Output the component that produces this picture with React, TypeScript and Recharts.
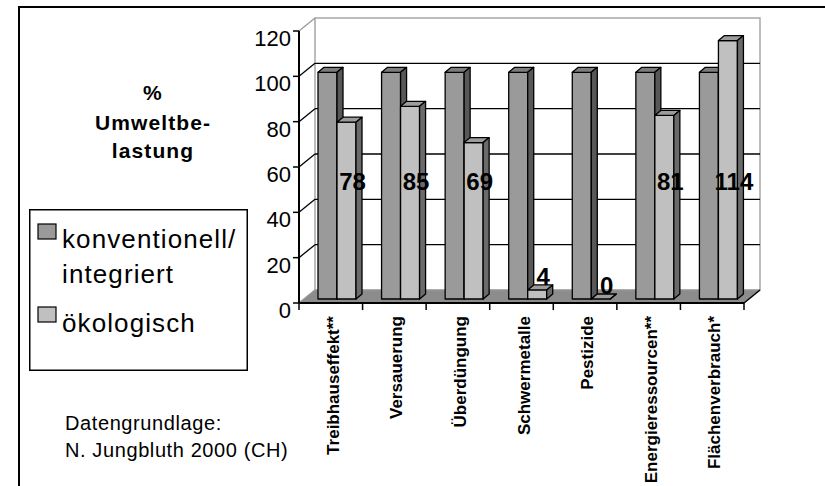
import React from 'react';
import { BarChart, Bar, XAxis, YAxis, ReferenceArea, Legend, LabelList } from 'recharts';

// Umweltbelastung konventionell vs. ökologisch (konventionell = 100 %)
const categories = [
  'Treibhauseffekt**',
  'Versauerung',
  'Überdüngung',
  'Schwermetalle',
  'Pestizide',
  'Energieressourcen**',
  'Flächenverbrauch*',
];
const konventionell = [100, 100, 100, 100, 100, 100, 100];
const oekologisch = [78, 85, 69, 4, 0, 81, 114];
const yTicks = [0, 20, 40, 60, 80, 100, 120];
const Y_MAX = 120;

const data = categories.map((name, i) => ({
  name,
  konv: konventionell[i],
  oeko: oekologisch[i],
}));

const FONT = "'Liberation Sans', Arial, Helvetica, sans-serif";

// 3D look: back wall offset, bar offset, bar depth
const WALL_DX = 16;
const WALL_DY = -13;
const BAR_DX = 6;
const BAR_DY = -4;
const DEPTH_X = 6;
const DEPTH_Y = -5;
const LABEL_LEVEL = 52; // big value labels sit at this height (data units)

function bar3d(front: string, top: string, side: string) {
  return (props: any) => {
    const { x, y, width } = props;
    const h = Math.max(Number(props.height) || 0, 0);
    const fx = x + BAR_DX;
    const fy = y + BAR_DY;
    return (
      <g stroke="#000" strokeWidth={1.3} strokeLinejoin="round">
        <rect x={fx} y={fy} width={width} height={h} fill={front} />
        <polygon
          points={`${fx},${fy} ${fx + DEPTH_X},${fy + DEPTH_Y} ${fx + width + DEPTH_X},${fy + DEPTH_Y} ${fx + width},${fy}`}
          fill={top}
        />
        <polygon
          points={`${fx + width},${fy} ${fx + width + DEPTH_X},${fy + DEPTH_Y} ${fx + width + DEPTH_X},${fy + h + DEPTH_Y} ${fx + width},${fy + h}`}
          fill={side}
        />
      </g>
    );
  };
}

const konvShape = bar3d('#9a9a9a', '#7c7c7c', '#585858');
const oekoShape = bar3d('#c0c0c0', '#9c9c9c', '#6a6a6a');

// back wall, side wall, floor
const Frame3D = (props: any) => {
  const { x, y, width, height } = props;
  const bottom = y + height;
  const right = x + width;
  const yOf = (v: number) => bottom - (v / Y_MAX) * height;
  return (
    <g>
      <rect x={x + WALL_DX} y={y + WALL_DY} width={width} height={height} fill="#fff" stroke="#9a9a9a" strokeWidth={1.3} />
      {yTicks
        .filter((v) => v > 0 && v < Y_MAX)
        .map((v) => (
          <line key={'g' + v} x1={x + WALL_DX} x2={right + WALL_DX} y1={yOf(v) + WALL_DY} y2={yOf(v) + WALL_DY} stroke="#000" strokeWidth={1.3} />
        ))}
      {yTicks.map((v) => (
        <line
          key={'d' + v}
          x1={x}
          y1={yOf(v)}
          x2={x + WALL_DX}
          y2={yOf(v) + WALL_DY}
          stroke={v === Y_MAX || v === 0 ? '#9a9a9a' : '#000'}
          strokeWidth={1.3}
        />
      ))}
      <polygon
        points={`${x},${bottom} ${x + WALL_DX},${bottom + WALL_DY} ${right + WALL_DX},${bottom + WALL_DY} ${right},${bottom}`}
        fill="#8c8c8c"
        stroke="#9a9a9a"
        strokeWidth={1}
      />
      <line x1={right} y1={bottom} x2={right + WALL_DX} y2={bottom + WALL_DY} stroke="#000" strokeWidth={1.5} />
    </g>
  );
};

const CategoryTick = (props: any) => {
  const { x, y, payload, index, visibleTicksCount } = props;
  const half = payload && typeof payload.offset === 'number' && payload.offset > 0 ? payload.offset : 31.8;
  const last = index === (visibleTicksCount ?? categories.length) - 1;
  return (
    <g>
      <line x1={x - half} x2={x - half} y1={y} y2={y + 7} stroke="#000" strokeWidth={1.5} />
      {last && <line x1={x + half} x2={x + half} y1={y} y2={y + 7} stroke="#000" strokeWidth={1.5} />}
      <text
        transform={`translate(${x + 8},${y + 13}) rotate(-90)`}
        textAnchor="end"
        fontFamily={FONT}
        fontWeight="bold"
        fontSize={17}
        fill="#000"
      >
        {payload.value}
      </text>
    </g>
  );
};

const ValueTick = (props: any) => {
  const { x, y, payload } = props;
  return (
    <text x={x} y={y + 7} dy="0.36em" textAnchor="end" fontFamily={FONT} fontSize={22} fill="#000">
      {payload.value}
    </text>
  );
};

const ValueLabel = (props: any) => {
  const vb = props.viewBox && props.viewBox.width !== undefined ? props.viewBox : props;
  const { x, y, width } = vb;
  const height = Number(vb.height) || 0;
  const v = Number(props.value);
  const cx = x + width / 2 + BAR_DX + 6;
  const baseY = y + height + BAR_DY;
  const cy = v >= LABEL_LEVEL ? baseY - LABEL_LEVEL * (height / v) : y + BAR_DY - 14;
  return (
    <text x={cx} y={cy} dy="0.36em" textAnchor="middle" fontFamily={FONT} fontWeight="bold" fontSize={24} fill="#000">
      {v}
    </text>
  );
};

const LegendBox = (props: any) => {
  const items = props.payload || [];
  const rows = [
    { sq: 15, lines: [39, 74] },
    { sq: 98, lines: [123] },
  ];
  return (
    <svg width={219} height={162} style={{ display: 'block' }}>
      <rect x={0.75} y={0.75} width={217.5} height={160.5} fill="#fff" stroke="#000" strokeWidth={1.5} />
      {items.map((it: any, i: number) => {
        const r = rows[i] || rows[rows.length - 1];
        const name = String(it.value);
        const parts = name.includes('/') ? [name.slice(0, name.indexOf('/') + 1), name.slice(name.indexOf('/') + 1)] : [name];
        return (
          <g key={name}>
            <rect x={9} y={r.sq} width={18} height={15} fill={it.color} stroke="#000" strokeWidth={1.2} />
            {parts.map((p, j) => (
              <text key={j} x={33} y={r.lines[j]} fontFamily={FONT} fontSize={26} letterSpacing={1.1} fill="#000">
                {p}
              </text>
            ))}
          </g>
        );
      })}
    </svg>
  );
};

export default function App() {
  return (
    <div style={{ position: 'absolute', left: 0, top: 0, width: 825, height: 486, background: '#fff', overflow: 'hidden' }}>
      <svg width={825} height={486} style={{ position: 'absolute', left: 0, top: 0 }}>
        <line x1={19} y1={7} x2={825} y2={7} stroke="#000" strokeWidth={2} />
        <line x1={19} y1={6} x2={19} y2={486} stroke="#000" strokeWidth={2} />
        <g fontFamily={FONT} fontWeight="bold" fontSize={21} textAnchor="middle" letterSpacing={1.1} fill="#000">
          <text x={153} y={100}>%</text>
          <text x={153} y={130}>Umweltbe-</text>
          <text x={153} y={158}>lastung</text>
        </g>
        <g fontFamily={FONT} fontSize={20} letterSpacing={0.6} fill="#000">
          <text x={65} y={430}>Datengrundlage:</text>
          <text x={65} y={457}>N. Jungbluth 2000 (CH)</text>
        </g>
      </svg>
      <div style={{ position: 'absolute', left: 0, top: 0 }}>
        <BarChart
          width={825}
          height={486}
          data={data}
          margin={{ top: 31, right: 81, left: 239, bottom: 153 }}
          barSize={19}
          barGap={0}
        >
          <ReferenceArea y1={0} y2={Y_MAX} ifOverflow="visible" shape={Frame3D} />
          <XAxis
            dataKey="name"
            height={30}
            interval={0}
            tickSize={0}
            tickMargin={0}
            tickLine={false}
            axisLine={{ stroke: '#000', strokeWidth: 2 }}
            tick={CategoryTick}
          />
          <YAxis
            width={60}
            domain={[0, Y_MAX]}
            ticks={yTicks}
            interval={0}
            tickSize={6}
            axisLine={{ stroke: '#000', strokeWidth: 2 }}
            tickLine={{ stroke: '#000', strokeWidth: 1.5 }}
            tick={ValueTick}
          />
          <Legend
            layout="vertical"
            align="center"
            verticalAlign="middle"
            wrapperStyle={{ position: 'absolute', left: 29, top: 209, width: 219, height: 162 }}
            content={LegendBox}
          />
          <Bar dataKey="konv" name="konventionell/integriert" fill="#9a9a9a" shape={konvShape} isAnimationActive={false} />
          <Bar dataKey="oeko" name="ökologisch" fill="#c0c0c0" shape={oekoShape} isAnimationActive={false}>
            <LabelList dataKey="oeko" content={ValueLabel} />
          </Bar>
        </BarChart>
      </div>
    </div>
  );
}
